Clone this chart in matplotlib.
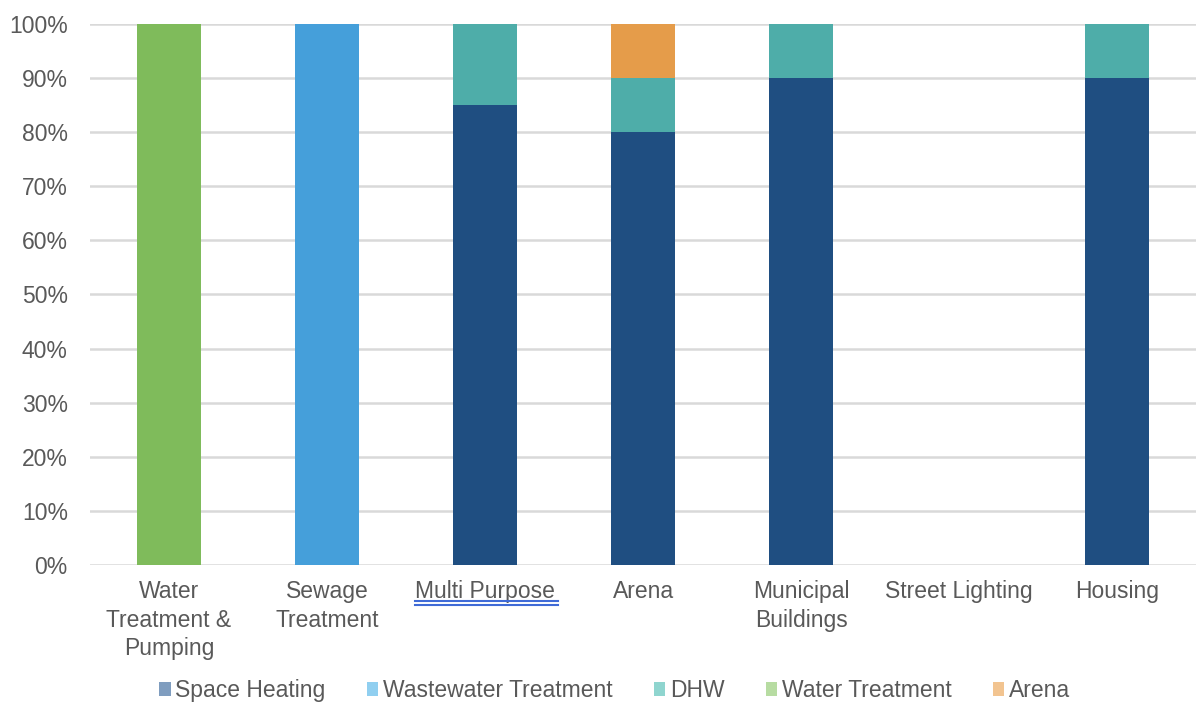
import matplotlib
matplotlib.use("Agg")
import matplotlib.pyplot as plt
from matplotlib.patches import Patch
from matplotlib.lines import Line2D
import numpy as np

categories = ["Water\nTreatment &\nPumping", "Sewage\nTreatment", "Multi Purpose",
              "Arena", "Municipal\nBuildings", "Street Lighting", "Housing"]
series_names = ["Space Heating", "Wastewater Treatment", "DHW", "Water Treatment", "Arena"]
space_heating = [0, 0, 85, 80, 90, 0, 90]
wastewater_treatment = [0, 100, 0, 0, 0, 0, 0]
dhw = [0, 0, 15, 10, 10, 0, 10]
water_treatment = [100, 0, 0, 0, 0, 0, 0]
arena = [0, 0, 0, 10, 0, 0, 0]

bar_colors = ["#1F4E81", "#459FDA", "#4EADA9", "#7FBB5B", "#E59C4A"]
legend_colors = ["#7F9DBF", "#90CFF0", "#8FD5CF", "#B7DCA2", "#F2C490"]

plt.rcParams['font.family'] = ['Liberation Sans', 'DejaVu Sans']
fig = plt.figure(figsize=(11.96, 7.04), dpi=100)
ax = fig.add_axes([0.0753, 0.1974, 0.9247, 0.7686])

x = np.arange(len(categories))
bottom = np.zeros(len(categories))
for vals, col in zip([space_heating, wastewater_treatment, dhw, water_treatment, arena], bar_colors):
    vals = np.array(vals, dtype=float)
    ax.bar(x, vals, width=0.4, bottom=bottom, color=col, zorder=3)
    bottom += vals

ax.set_xlim(-0.5, len(categories) - 0.5)
ax.set_ylim(0, 100)
ax.set_yticks(np.arange(0, 101, 10))
ax.set_yticklabels([f"{v}%" for v in range(0, 101, 10)])
ax.set_xticks(x)
ax.set_xticklabels(categories, linespacing=1.3)
ax.tick_params(axis='both', length=0, labelsize=16.5, colors="#595959")
ax.tick_params(axis='x', pad=11)
ax.tick_params(axis='y', pad=16)
ax.grid(axis='y', color="#D9D9D9", linewidth=1.8, zorder=0)
for s in ax.spines.values():
    s.set_visible(False)

handles = [Patch(facecolor=c, edgecolor='none') for c in legend_colors]
fig.legend(handles, series_names, loc='center', bbox_to_anchor=(0.514, 0.019),
           ncol=5, frameon=False, fontsize=16.5, handlelength=0.5, handleheight=0.5,
           handletextpad=0.2, columnspacing=1.8, labelcolor="#595959")

# double underline under the "Multi Purpose" label
fig.canvas.draw()
renderer = fig.canvas.get_renderer()
lab = ax.get_xticklabels()[2]
bb = lab.get_window_extent(renderer)
for dy in (-2, 2):
    yy = (bb.y0 - dy) / fig.bbox.height
    fig.add_artist(Line2D([bb.x0 / fig.bbox.width, (bb.x1 + 3) / fig.bbox.width], [yy, yy],
                          color="#3F6AD6", linewidth=1.5))

fig.savefig("out.png", dpi=100)
